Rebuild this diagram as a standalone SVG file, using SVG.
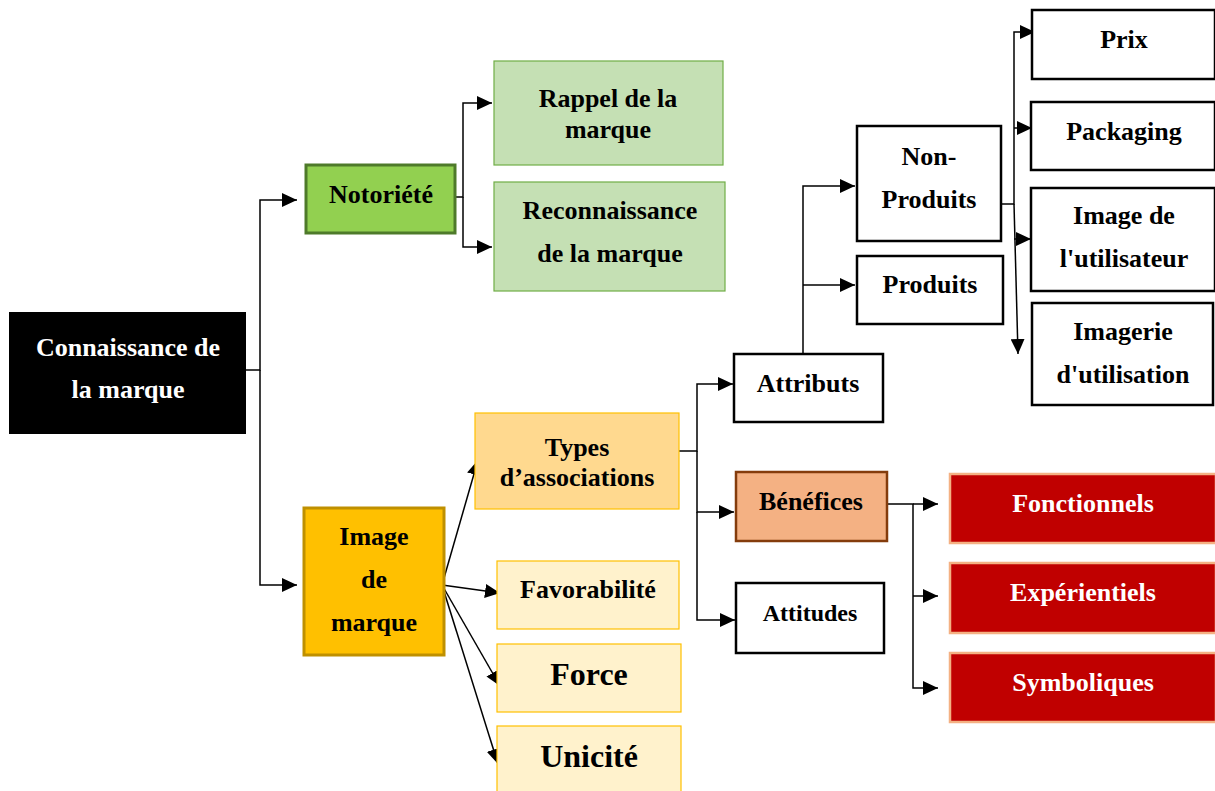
<svg xmlns="http://www.w3.org/2000/svg" width="1215" height="791" viewBox="0 0 1215 791">
  <style>
    .t { font-family: "Liberation Serif", "DejaVu Serif", serif; font-weight: 700; font-size: 26px; text-anchor: middle; fill: #000; }
    .w { fill: #fff; }
    .big { font-size: 32px; }
    .sm { font-size: 24px; }
    .plain { fill: #fff; stroke: #000; stroke-width: 2.5; }
    .lk { fill: none; stroke: #000; stroke-width: 1.5; }
  </style>
  <defs>
    <marker id="arr" markerUnits="userSpaceOnUse" markerWidth="16" markerHeight="14" refX="15" refY="7" orient="auto">
      <path d="M0,0 L15,7 L0,14 z" fill="#000"/>
    </marker>
  </defs>
  <rect width="1215" height="791" fill="#fff"/>

  <!-- connectors -->
  <g id="connectors" class="lk">
    <path d="M246,370 H260 V200 H297" marker-end="url(#arr)"/>
    <path d="M260,370 V585 H297" marker-end="url(#arr)"/>
    <path d="M455,197 H463 V103 H492" marker-end="url(#arr)"/>
    <path d="M463,197 V247 H492" marker-end="url(#arr)"/>
    <path d="M442,585 L478,460" marker-end="url(#arr)"/>
    <path d="M442,585 L500,593" marker-end="url(#arr)"/>
    <path d="M442,585 L500,686" marker-end="url(#arr)"/>
    <path d="M442,585 L498,764" marker-end="url(#arr)"/>
    <path d="M679,451 H697 V384 H733" marker-end="url(#arr)"/>
    <path d="M697,451 V512 H734" marker-end="url(#arr)"/>
    <path d="M697,512 V620 H735" marker-end="url(#arr)"/>
    <path d="M803,354 V186 H855" marker-end="url(#arr)"/>
    <path d="M803,285 H855" marker-end="url(#arr)"/>
    <path d="M993,204 H1014 V32 H1035" marker-end="url(#arr)"/>
    <path d="M1014,128 H1032" marker-end="url(#arr)"/>
    <path d="M1014,239 H1031" marker-end="url(#arr)"/>
    <path d="M1014,204 L1018,354" marker-end="url(#arr)"/>
    <path d="M887,504 H913 V688 H938" marker-end="url(#arr)"/>
    <path d="M913,504 H938" marker-end="url(#arr)"/>
    <path d="M913,596 H938" marker-end="url(#arr)"/>
  </g>

  <g id="connaissance">
    <rect x="9" y="312" width="237" height="122" fill="#000"/>
    <text class="t w" x="128" y="356">Connaissance de</text>
    <text class="t w" x="128" y="398">la marque</text>
  </g>

  <g id="notoriete">
    <rect x="306" y="165" width="149" height="68" fill="#92d050" stroke="#4e7a2a" stroke-width="3"/>
    <text class="t" x="381" y="203">Notoriété</text>
  </g>
  <g id="rappel">
    <rect x="494" y="61" width="229" height="104" fill="#c5e0b4" stroke="#70ad47" stroke-width="1.2"/>
    <text class="t" x="608" y="107">Rappel de la</text>
    <text class="t" x="608" y="138">marque</text>
  </g>
  <g id="reconnaissance">
    <rect x="494" y="182" width="231" height="109" fill="#c5e0b4" stroke="#70ad47" stroke-width="1.2"/>
    <text class="t" x="610" y="219">Reconnaissance</text>
    <text class="t" x="610" y="262">de la marque</text>
  </g>

  <g id="image-marque">
    <rect x="304" y="508" width="140" height="147" fill="#ffc000" stroke="#bf9000" stroke-width="3"/>
    <text class="t" x="374" y="545">Image</text>
    <text class="t" x="374" y="588">de</text>
    <text class="t" x="374" y="631">marque</text>
  </g>
  <g id="types">
    <rect x="475" y="413" width="204" height="96" fill="#ffd98f" stroke="#ffc000" stroke-width="1.2"/>
    <text class="t" x="577" y="456">Types</text>
    <text class="t" x="577" y="486">d’associations</text>
  </g>
  <g id="favorabilite">
    <rect x="497" y="561" width="182" height="68" fill="#fff2cc" stroke="#ffc000" stroke-width="1.2"/>
    <text class="t" x="588" y="598">Favorabilité</text>
  </g>
  <g id="force">
    <rect x="497" y="644" width="184" height="68" fill="#fff2cc" stroke="#ffc000" stroke-width="1.2"/>
    <text class="t big" x="589" y="685">Force</text>
  </g>
  <g id="unicite">
    <rect x="497" y="726" width="184" height="70" fill="#fff2cc" stroke="#ffc000" stroke-width="1.2"/>
    <text class="t big" x="589" y="767">Unicité</text>
  </g>

  <g id="attributs">
    <rect class="plain" x="734" y="354" width="149" height="68"/>
    <text class="t" x="808" y="392">Attributs</text>
  </g>
  <g id="benefices">
    <rect x="736" y="472" width="151" height="69" fill="#f4b183" stroke="#843c0c" stroke-width="2.5"/>
    <text class="t" x="811" y="510">Bénéfices</text>
  </g>
  <g id="attitudes">
    <rect class="plain" x="736" y="583" width="148" height="70"/>
    <text class="t sm" x="810" y="621">Attitudes</text>
  </g>

  <g id="non-produits">
    <rect class="plain" x="857" y="126" width="144" height="115"/>
    <text class="t" x="929" y="165">Non-</text>
    <text class="t" x="929" y="208">Produits</text>
  </g>
  <g id="produits">
    <rect class="plain" x="857" y="256" width="146" height="68"/>
    <text class="t" x="930" y="293">Produits</text>
  </g>

  <g id="prix">
    <rect class="plain" x="1032" y="10" width="183" height="69"/>
    <text class="t" x="1124" y="48">Prix</text>
  </g>
  <g id="packaging">
    <rect class="plain" x="1031" y="102" width="184" height="68"/>
    <text class="t" x="1124" y="140">Packaging</text>
  </g>
  <g id="image-utilisateur">
    <rect class="plain" x="1031" y="188" width="184" height="103"/>
    <text class="t" x="1124" y="224">Image de</text>
    <text class="t" x="1124" y="267">l'utilisateur</text>
  </g>
  <g id="imagerie">
    <rect class="plain" x="1032" y="303" width="181" height="102"/>
    <text class="t" x="1123" y="340">Imagerie</text>
    <text class="t" x="1123" y="383">d'utilisation</text>
  </g>

  <g id="fonctionnels">
    <rect x="950" y="474" width="266" height="69" fill="#c00000" stroke="#f4b183" stroke-width="2.5"/>
    <text class="t w" x="1083" y="512">Fonctionnels</text>
  </g>
  <g id="experientiels">
    <rect x="950" y="563" width="266" height="70" fill="#c00000" stroke="#f4b183" stroke-width="2.5"/>
    <text class="t w" x="1083" y="601">Expérientiels</text>
  </g>
  <g id="symboliques">
    <rect x="950" y="653" width="266" height="69" fill="#c00000" stroke="#f4b183" stroke-width="2.5"/>
    <text class="t w" x="1083" y="691">Symboliques</text>
  </g>
</svg>
